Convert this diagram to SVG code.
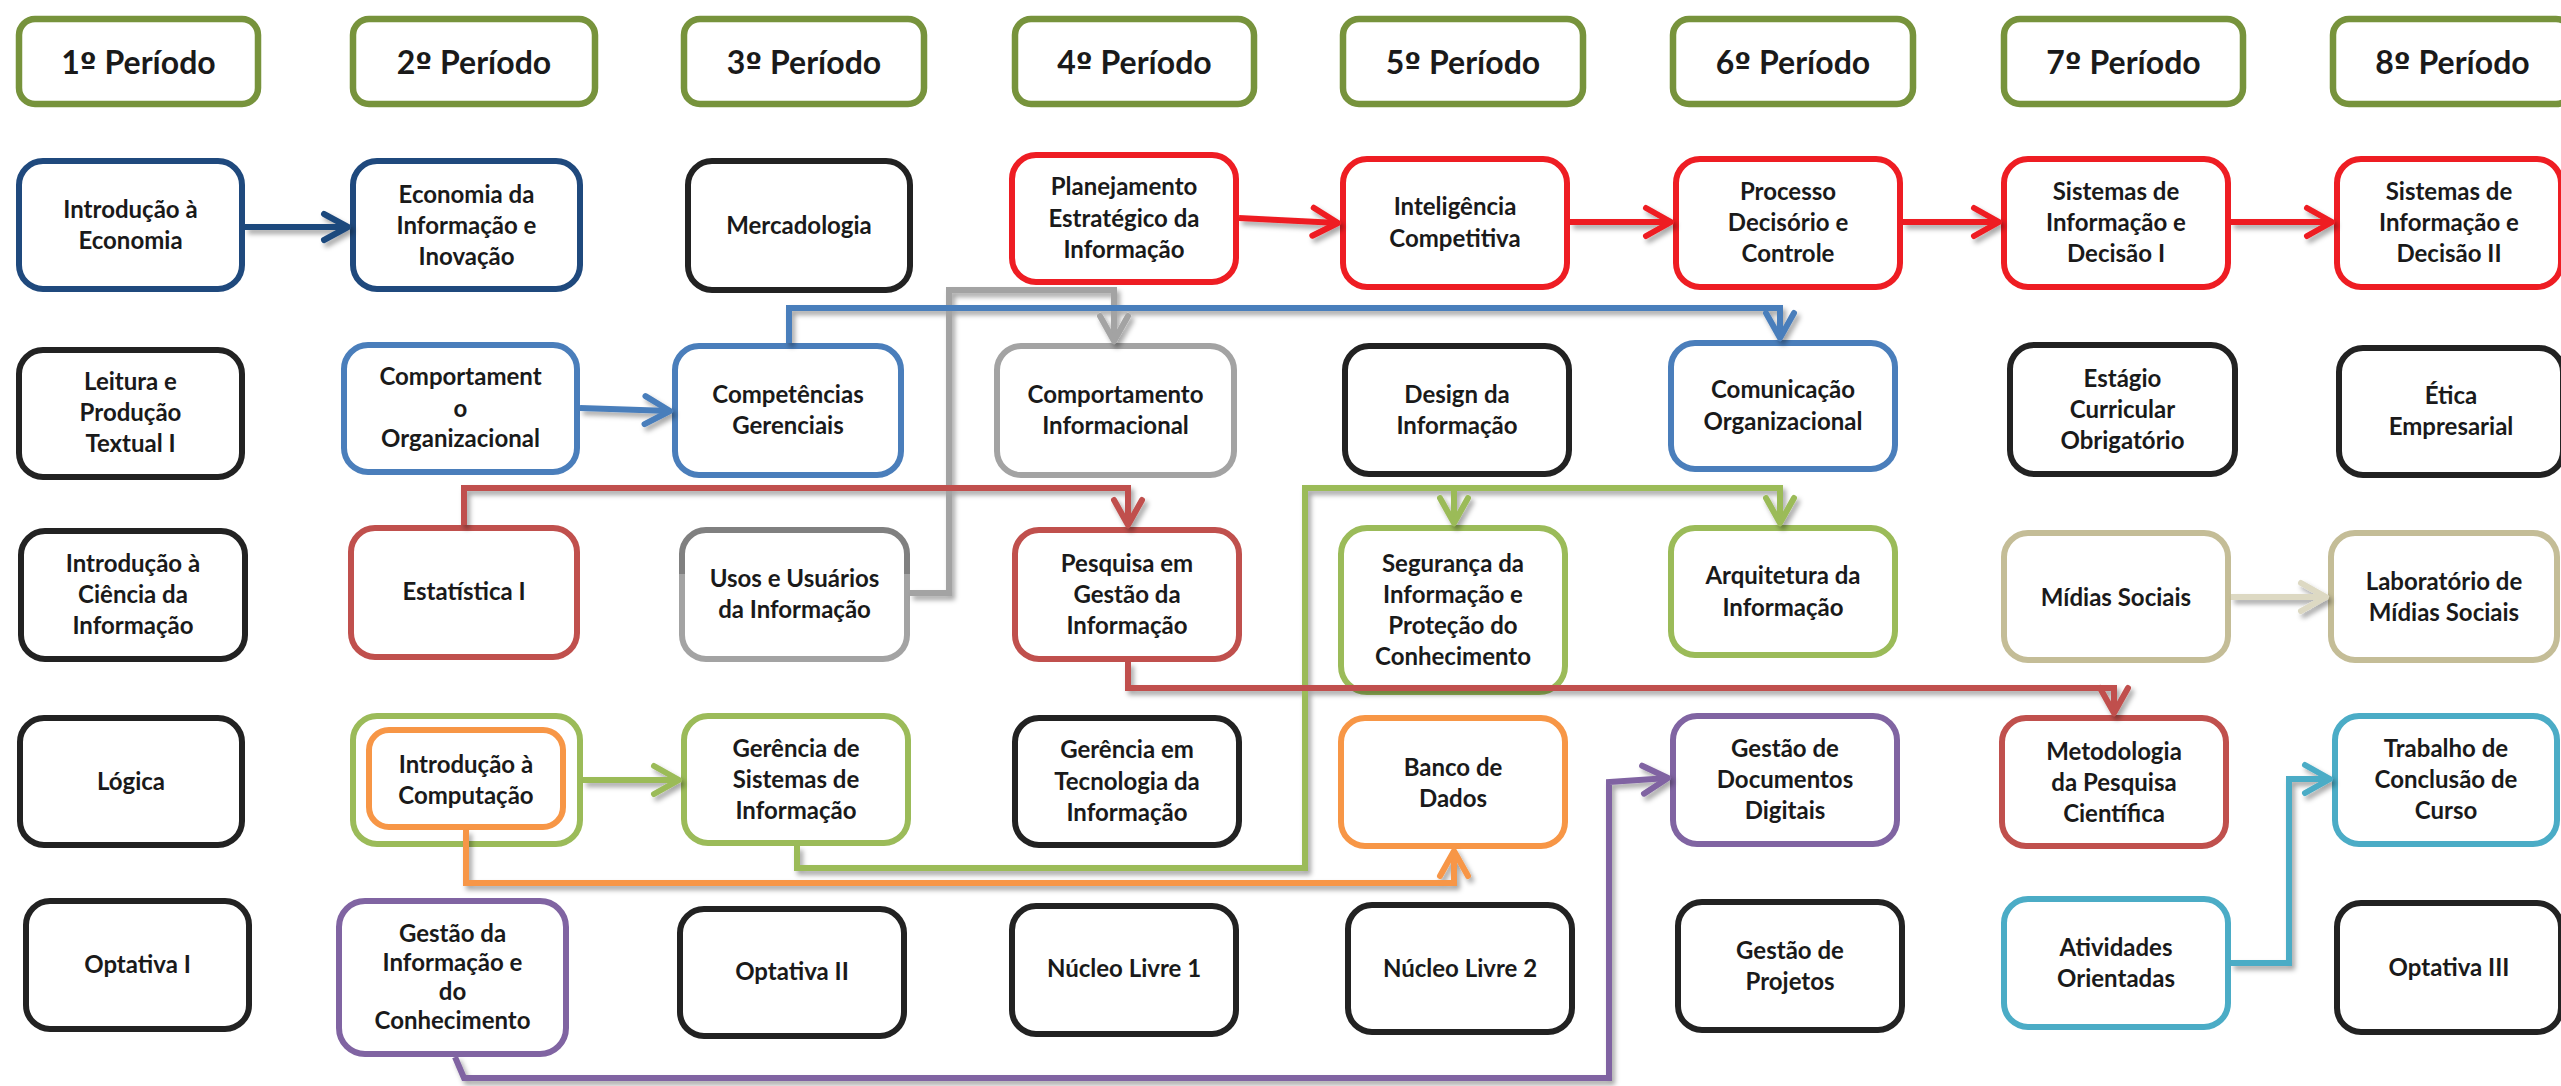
<svg xmlns="http://www.w3.org/2000/svg" width="2561" height="1086" viewBox="0 0 2561 1086">
  <style>
    .bg { fill: #ffffff; }
    .box { fill: #ffffff; stroke-width: 6; }
    .hdr { fill: #ffffff; stroke: #77933C; stroke-width: 6.5; }
    .k { stroke: #222222; }
    .dblue { stroke: #1F497D; }
    .blue { stroke: #4A7EBB; }
    .red { stroke: #EE1D23; }
    .dred { stroke: #C0504D; }
    .gray { stroke: #A3A3A3; }
    .green { stroke: #9BBB59; }
    .orange { stroke: #F79646; }
    .purple { stroke: #8064A2; }
    .teal { stroke: #4BACC6; }
    .tan { stroke: #C4BD97; }
    .ltan { stroke: #DDD9C3; }
    text { font-family: Lato, "Liberation Sans", sans-serif; font-weight: bold; fill: #1A1A1A; text-anchor: middle; }
    .ht { font-size: 32px; }
    .ord { font-family: "DejaVu Sans", sans-serif; font-size: 30px; }
    .nt { font-size: 24px; }
    .c { fill: none; stroke-width: 6; stroke-linejoin: miter; }
    .ah { fill: none; stroke-width: 6; stroke-linecap: round; stroke-linejoin: round; }
  </style>
  <defs>
    <filter id="shadow" x="-10%" y="-10%" width="120%" height="130%">
      <feDropShadow dx="3" dy="4" stdDeviation="2.5" flood-color="#000000" flood-opacity="0.35"/>
    </filter>
    <linearGradient id="usosStroke" x1="0" y1="0" x2="0" y2="1">
      <stop offset="0" stop-color="#808080"/>
      <stop offset="0.34" stop-color="#808080"/>
      <stop offset="0.34" stop-color="#A3A3A3"/>
      <stop offset="1" stop-color="#A3A3A3"/>
    </linearGradient>
    <marker id="a-dblue" markerUnits="userSpaceOnUse" viewBox="-30 -20 36 40" markerWidth="36" markerHeight="40" refX="0" refY="0" orient="auto" overflow="visible"><path class="ah dblue" d="M-24,-13 L0,0 L-24,13"/></marker>
    <marker id="a-blue" markerUnits="userSpaceOnUse" viewBox="-30 -20 36 40" markerWidth="36" markerHeight="40" refX="0" refY="0" orient="auto" overflow="visible"><path class="ah blue" d="M-25,-14 L0,0 L-25,14"/></marker>
    <marker id="a-red" markerUnits="userSpaceOnUse" viewBox="-30 -20 36 40" markerWidth="36" markerHeight="40" refX="0" refY="0" orient="auto" overflow="visible"><path class="ah red" d="M-25,-14 L0,0 L-25,14"/></marker>
    <marker id="a-dred" markerUnits="userSpaceOnUse" viewBox="-30 -20 36 40" markerWidth="36" markerHeight="40" refX="0" refY="0" orient="auto" overflow="visible"><path class="ah dred" d="M-25,-14 L0,0 L-25,14"/></marker>
    <marker id="a-gray" markerUnits="userSpaceOnUse" viewBox="-30 -20 36 40" markerWidth="36" markerHeight="40" refX="0" refY="0" orient="auto" overflow="visible"><path class="ah gray" d="M-25,-14 L0,0 L-25,14"/></marker>
    <marker id="a-green" markerUnits="userSpaceOnUse" viewBox="-30 -20 36 40" markerWidth="36" markerHeight="40" refX="0" refY="0" orient="auto" overflow="visible"><path class="ah green" d="M-25,-14 L0,0 L-25,14"/></marker>
    <marker id="a-orange" markerUnits="userSpaceOnUse" viewBox="-30 -20 36 40" markerWidth="36" markerHeight="40" refX="0" refY="0" orient="auto" overflow="visible"><path class="ah orange" d="M-25,-14 L0,0 L-25,14"/></marker>
    <marker id="a-purple" markerUnits="userSpaceOnUse" viewBox="-30 -20 36 40" markerWidth="36" markerHeight="40" refX="0" refY="0" orient="auto" overflow="visible"><path class="ah purple" d="M-25,-14 L0,0 L-25,14"/></marker>
    <marker id="a-teal" markerUnits="userSpaceOnUse" viewBox="-30 -20 36 40" markerWidth="36" markerHeight="40" refX="0" refY="0" orient="auto" overflow="visible"><path class="ah teal" d="M-25,-14 L0,0 L-25,14"/></marker>
    <marker id="a-ltan" markerUnits="userSpaceOnUse" viewBox="-30 -20 36 40" markerWidth="36" markerHeight="40" refX="0" refY="0" orient="auto" overflow="visible"><path class="ah ltan" d="M-25,-14 L0,0 L-25,14"/></marker>
  </defs>

  <rect class="bg" x="0" y="0" width="2561" height="1086"/>

  <!-- period headers -->
  <g id="headers">
    <g id="h1"><rect class="hdr" x="19" y="19" width="239" height="85" rx="16"/><text class="ht" x="138.5" y="74">1<tspan class="ord">º</tspan> Período</text></g>
    <g id="h2"><rect class="hdr" x="353" y="19" width="242" height="85" rx="16"/><text class="ht" x="474" y="74">2<tspan class="ord">º</tspan> Período</text></g>
    <g id="h3"><rect class="hdr" x="684" y="19" width="240" height="85" rx="16"/><text class="ht" x="804" y="74">3<tspan class="ord">º</tspan> Período</text></g>
    <g id="h4"><rect class="hdr" x="1015" y="19" width="239" height="85" rx="16"/><text class="ht" x="1134.5" y="74">4<tspan class="ord">º</tspan> Período</text></g>
    <g id="h5"><rect class="hdr" x="1343" y="19" width="240" height="85" rx="16"/><text class="ht" x="1463" y="74">5<tspan class="ord">º</tspan> Período</text></g>
    <g id="h6"><rect class="hdr" x="1673" y="19" width="240" height="85" rx="16"/><text class="ht" x="1793" y="74">6<tspan class="ord">º</tspan> Período</text></g>
    <g id="h7"><rect class="hdr" x="2004" y="19" width="239" height="85" rx="16"/><text class="ht" x="2123.5" y="74">7<tspan class="ord">º</tspan> Período</text></g>
    <g id="h8"><rect class="hdr" x="2333" y="19" width="239" height="85" rx="16"/><text class="ht" x="2452.5" y="74">8<tspan class="ord">º</tspan> Período</text></g>
  </g>

  <!-- course nodes -->
  <g id="nodes">
    <!-- row 1 -->
    <g id="n-intro-economia"><rect class="box dblue" x="19" y="161" width="223" height="128" rx="24"/><text class="nt"><tspan x="130.5" y="218">Introdução à</tspan><tspan x="130.5" y="249">Economia</tspan></text></g>
    <g id="n-economia-info"><rect class="box dblue" x="353" y="161" width="227" height="128" rx="24"/><text class="nt"><tspan x="466.5" y="203">Economia da</tspan><tspan x="466.5" y="234">Informação e</tspan><tspan x="466.5" y="265">Inovação</tspan></text></g>
    <g id="n-mercadologia"><rect class="box k" x="688" y="161" width="222" height="129" rx="24"/><text class="nt"><tspan x="799" y="234">Mercadologia</tspan></text></g>
    <g id="n-planejamento"><rect class="box red" x="1012" y="155" width="224" height="127" rx="24"/><text class="nt"><tspan x="1124" y="195">Planejamento</tspan><tspan x="1124" y="227">Estratégico da</tspan><tspan x="1124" y="258">Informação</tspan></text></g>
    <g id="n-inteligencia"><rect class="box red" x="1343" y="159" width="224" height="128" rx="24"/><text class="nt"><tspan x="1455" y="215">Inteligência</tspan><tspan x="1455" y="247">Competitiva</tspan></text></g>
    <g id="n-processo"><rect class="box red" x="1676" y="159" width="224" height="128" rx="24"/><text class="nt"><tspan x="1788" y="200">Processo</tspan><tspan x="1788" y="231">Decisório e</tspan><tspan x="1788" y="262">Controle</tspan></text></g>
    <g id="n-sid1"><rect class="box red" x="2004" y="159" width="224" height="128" rx="24"/><text class="nt"><tspan x="2116" y="200">Sistemas de</tspan><tspan x="2116" y="231">Informação e</tspan><tspan x="2116" y="262">Decisão I</tspan></text></g>
    <g id="n-sid2"><rect class="box red" x="2337" y="159" width="224" height="128" rx="24"/><text class="nt"><tspan x="2449" y="200">Sistemas de</tspan><tspan x="2449" y="231">Informação e</tspan><tspan x="2449" y="262">Decisão II</tspan></text></g>

    <!-- row 2 -->
    <g id="n-leitura"><rect class="box k" x="19" y="350" width="223" height="127" rx="24"/><text class="nt"><tspan x="130.5" y="390">Leitura e</tspan><tspan x="130.5" y="421">Produção</tspan><tspan x="130.5" y="452">Textual I</tspan></text></g>
    <g id="n-comport-org"><rect class="box blue" x="344" y="345" width="233" height="127" rx="24"/><text class="nt"><tspan x="460.5" y="385">Comportament</tspan><tspan x="460.5" y="417">o</tspan><tspan x="460.5" y="447">Organizacional</tspan></text></g>
    <g id="n-competencias"><rect class="box blue" x="675" y="346" width="226" height="129" rx="24"/><text class="nt"><tspan x="788" y="403">Competências</tspan><tspan x="788" y="434">Gerenciais</tspan></text></g>
    <g id="n-comport-info"><rect class="box gray" x="997" y="346" width="237" height="129" rx="24"/><text class="nt"><tspan x="1115.5" y="403">Comportamento</tspan><tspan x="1115.5" y="434">Informacional</tspan></text></g>
    <g id="n-design"><rect class="box k" x="1345" y="346" width="224" height="128" rx="24"/><text class="nt"><tspan x="1457" y="403">Design da</tspan><tspan x="1457" y="434">Informação</tspan></text></g>
    <g id="n-comunicacao"><rect class="box blue" x="1671" y="343" width="224" height="126" rx="24"/><text class="nt"><tspan x="1783" y="398">Comunicação</tspan><tspan x="1783" y="430">Organizacional</tspan></text></g>
    <g id="n-estagio"><rect class="box k" x="2010" y="345" width="225" height="129" rx="24"/><text class="nt"><tspan x="2122.5" y="387">Estágio</tspan><tspan x="2122.5" y="418">Curricular</tspan><tspan x="2122.5" y="449">Obrigatório</tspan></text></g>
    <g id="n-etica"><rect class="box k" x="2339" y="348" width="224" height="127" rx="24"/><text class="nt"><tspan x="2451" y="404">Ética</tspan><tspan x="2451" y="435">Empresarial</tspan></text></g>

    <!-- row 3 -->
    <g id="n-intro-ciencia"><rect class="box k" x="21" y="531" width="224" height="128" rx="24"/><text class="nt"><tspan x="133" y="572">Introdução à</tspan><tspan x="133" y="603">Ciência da</tspan><tspan x="133" y="634">Informação</tspan></text></g>
    <g id="n-estatistica"><rect class="box dred" x="351" y="528" width="226" height="129" rx="24"/><text class="nt"><tspan x="464" y="600">Estatística I</tspan></text></g>
    <g id="n-usos"><rect class="box" stroke="url(#usosStroke)" x="682" y="530" width="225" height="129" rx="24"/><text class="nt"><tspan x="794.5" y="587">Usos e Usuários</tspan><tspan x="794.5" y="618">da Informação</tspan></text></g>
    <g id="n-pesquisa"><rect class="box dred" x="1015" y="530" width="224" height="129" rx="24"/><text class="nt"><tspan x="1127" y="572">Pesquisa em</tspan><tspan x="1127" y="603">Gestão da</tspan><tspan x="1127" y="634">Informação</tspan></text></g>
    <g id="n-seguranca"><rect class="box green" x="1341" y="528" width="224" height="164" rx="26"/><text class="nt"><tspan x="1453" y="572">Segurança da</tspan><tspan x="1453" y="603">Informação e</tspan><tspan x="1453" y="634">Proteção do</tspan><tspan x="1453" y="665">Conhecimento</tspan></text></g>
    <g id="n-arquitetura"><rect class="box green" x="1671" y="528" width="224" height="127" rx="24"/><text class="nt"><tspan x="1783" y="584">Arquitetura da</tspan><tspan x="1783" y="616">Informação</tspan></text></g>
    <g id="n-midias"><rect class="box tan" x="2004" y="533" width="224" height="127" rx="24"/><text class="nt"><tspan x="2116" y="606">Mídias Sociais</tspan></text></g>
    <g id="n-laboratorio"><rect class="box tan" x="2331" y="533" width="226" height="127" rx="24"/><text class="nt"><tspan x="2444" y="590">Laboratório de</tspan><tspan x="2444" y="621">Mídias Sociais</tspan></text></g>

    <!-- row 4 -->
    <g id="n-logica"><rect class="box k" x="20" y="718" width="222" height="127" rx="24"/><text class="nt"><tspan x="131" y="790">Lógica</tspan></text></g>
    <g id="n-intro-computacao"><rect class="box green" x="353" y="716" width="227" height="128" rx="24"/><rect class="box orange" x="369" y="730" width="194" height="97" rx="20"/><text class="nt"><tspan x="466" y="773">Introdução à</tspan><tspan x="466" y="804">Computação</tspan></text></g>
    <g id="n-gerencia-si"><rect class="box green" x="684" y="716" width="224" height="127" rx="24"/><text class="nt"><tspan x="796" y="757">Gerência de</tspan><tspan x="796" y="788">Sistemas de</tspan><tspan x="796" y="819">Informação</tspan></text></g>
    <g id="n-gerencia-ti"><rect class="box k" x="1015" y="718" width="224" height="127" rx="24"/><text class="nt"><tspan x="1127" y="758">Gerência em</tspan><tspan x="1127" y="790">Tecnologia da</tspan><tspan x="1127" y="821">Informação</tspan></text></g>
    <g id="n-banco"><rect class="box orange" x="1341" y="718" width="224" height="128" rx="24"/><text class="nt"><tspan x="1453" y="776">Banco de</tspan><tspan x="1453" y="807">Dados</tspan></text></g>
    <g id="n-gestao-docs"><rect class="box purple" x="1673" y="716" width="224" height="128" rx="24"/><text class="nt"><tspan x="1785" y="757">Gestão de</tspan><tspan x="1785" y="788">Documentos</tspan><tspan x="1785" y="819">Digitais</tspan></text></g>
    <g id="n-metodologia"><rect class="box dred" x="2002" y="718" width="224" height="128" rx="24"/><text class="nt"><tspan x="2114" y="760">Metodologia</tspan><tspan x="2114" y="791">da Pesquisa</tspan><tspan x="2114" y="822">Científica</tspan></text></g>
    <g id="n-tcc"><rect class="box teal" x="2335" y="716" width="222" height="128" rx="24"/><text class="nt"><tspan x="2446" y="757">Trabalho de</tspan><tspan x="2446" y="788">Conclusão de</tspan><tspan x="2446" y="819">Curso</tspan></text></g>

    <!-- row 5 -->
    <g id="n-optativa1"><rect class="box k" x="26" y="901" width="223" height="128" rx="24"/><text class="nt"><tspan x="137.5" y="973">Optativa I</tspan></text></g>
    <g id="n-gestao-info-conhec"><rect class="box purple" x="339" y="901" width="227" height="153" rx="26"/><text class="nt"><tspan x="452.5" y="942">Gestão da</tspan><tspan x="452.5" y="971">Informação e</tspan><tspan x="452.5" y="1000">do</tspan><tspan x="452.5" y="1029">Conhecimento</tspan></text></g>
    <g id="n-optativa2"><rect class="box k" x="680" y="909" width="224" height="127" rx="24"/><text class="nt"><tspan x="792" y="980">Optativa II</tspan></text></g>
    <g id="n-nucleo1"><rect class="box k" x="1012" y="906" width="224" height="128" rx="24"/><text class="nt"><tspan x="1124" y="977">Núcleo Livre 1</tspan></text></g>
    <g id="n-nucleo2"><rect class="box k" x="1348" y="905" width="224" height="127" rx="24"/><text class="nt"><tspan x="1460" y="977">Núcleo Livre 2</tspan></text></g>
    <g id="n-gestao-projetos"><rect class="box k" x="1678" y="902" width="224" height="128" rx="24"/><text class="nt"><tspan x="1790" y="959">Gestão de</tspan><tspan x="1790" y="990">Projetos</tspan></text></g>
    <g id="n-atividades"><rect class="box teal" x="2004" y="899" width="224" height="128" rx="24"/><text class="nt"><tspan x="2116" y="956">Atividades</tspan><tspan x="2116" y="987">Orientadas</tspan></text></g>
    <g id="n-optativa3"><rect class="box k" x="2337" y="903" width="224" height="129" rx="24"/><text class="nt"><tspan x="2449" y="976">Optativa III</tspan></text></g>
  </g>

  <!-- prerequisite connectors -->
  <g id="connectors" filter="url(#shadow)">
    <path class="c gray" d="M910,593 L949,593 L949,290 L1114,290 L1114,341" marker-end="url(#a-gray)"/>
    <path class="c green" d="M797,846 L797,868 L1305,868 L1305,488 L1780,488 L1780,523" marker-end="url(#a-green)"/>
    <path class="c green" d="M1454,488 L1454,523" marker-end="url(#a-green)"/>
    <path class="c blue" d="M789,343 L789,308 L1780,308 L1780,338" marker-end="url(#a-blue)"/>
    <path class="c dred" d="M464,525 L464,488 L1128,488 L1128,525" marker-end="url(#a-dred)"/>
    <path class="c dred" d="M1128,662 L1128,688 L2114,688 L2114,713" marker-end="url(#a-dred)"/>
    <path class="c orange" d="M466,830 L466,883 L1454,883 L1454,851" marker-end="url(#a-orange)"/>
    <path class="c purple" d="M455,1057 L464,1078 L1609,1078 L1609,782 L1668,778" marker-end="url(#a-purple)"/>
    <path class="c teal" d="M2231,963 L2289,963 L2289,779 L2330,779" marker-end="url(#a-teal)"/>
    <path class="c dblue" d="M245,227 L348,227" marker-end="url(#a-dblue)"/>
    <path class="c blue" d="M580,408 L670,411" marker-end="url(#a-blue)"/>
    <path class="c green" d="M583,780 L679,780" marker-end="url(#a-green)"/>
    <path class="c red" d="M1239,218 L1338,223" marker-end="url(#a-red)"/>
    <path class="c red" d="M1570,222 L1671,222" marker-end="url(#a-red)"/>
    <path class="c red" d="M1903,222 L1999,222" marker-end="url(#a-red)"/>
    <path class="c red" d="M2231,222 L2332,222" marker-end="url(#a-red)"/>
    <path class="c ltan" d="M2231,597 L2326,597" marker-end="url(#a-ltan)"/>
  </g>
</svg>
